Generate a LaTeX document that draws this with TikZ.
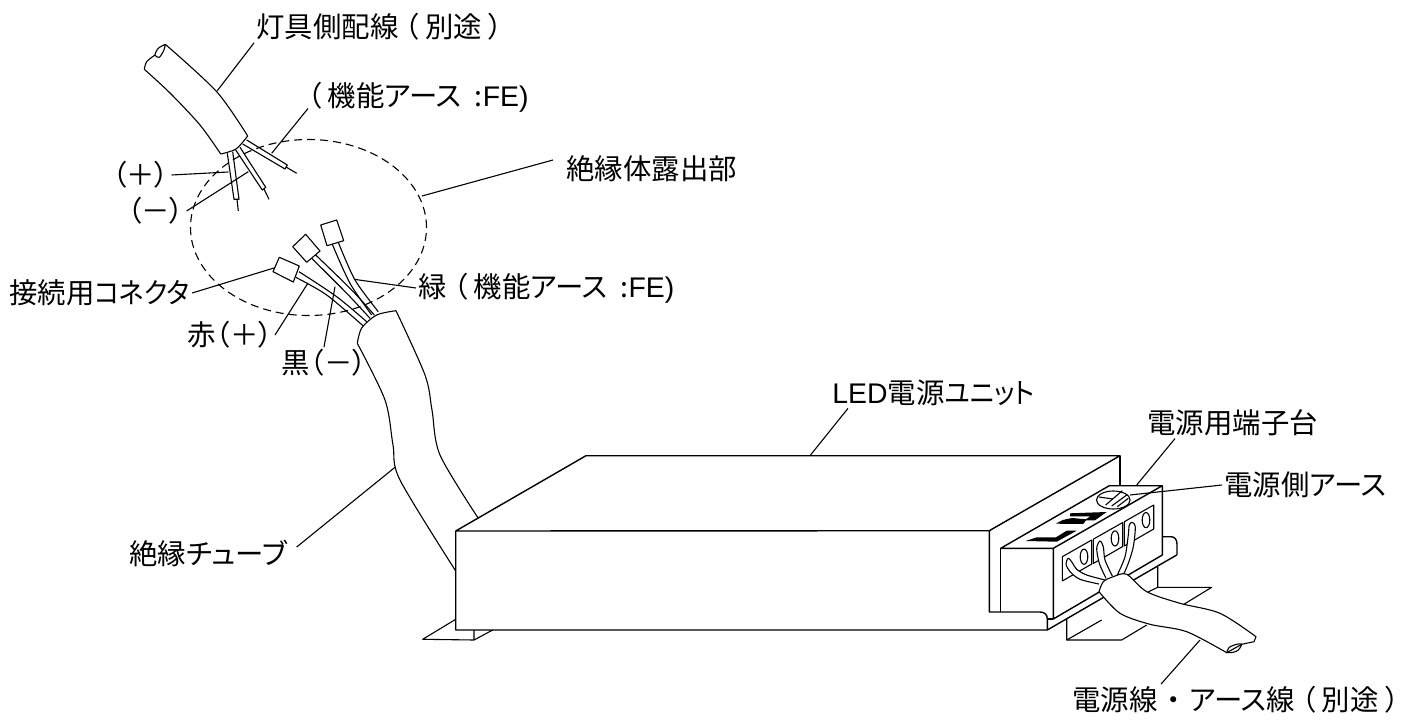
\documentclass[tikz,border=0pt]{standalone}
\usepackage{fontspec}
\setmainfont[RawFeature=+palt]{Noto Sans CJK JP}
\newfontfamily\latinfont{Liberation Sans}
\newcommand{\lat}[1]{{\latinfont #1}}
\newcommand{\tightkana}[1]{\scalebox{.92}[1]{#1}}

\tikzset{
	outline/.style={line width=0.7pt, line join=round},
	thinline/.style={line width=0.55pt, line join=round},
	cover/.style={thinline, fill=white},
	leader/.style={line width=0.55pt},
	label/.style={anchor=west, inner sep=1pt, font=\fontsize{14.2}{15}\selectfont},
}

\begin{document}
\begin{tikzpicture}[x=0.5pt, y=-0.5pt]
	\useasboundingbox (0, 0) rectangle (1409, 722);

	% labels
	\node[label] (lampwire) at (254, 27) {灯具側配線 （ 別途 ）};
	\node[label] (lampfe) at (305, 97) {（ 機能アース\hspace{3.5pt} :\lat{FE)}};
	\node[label] (lampplus) at (110, 175) {（＋）};
	\node[label] (lampminus) at (125, 211) {（－）};
	\node[label] (exposed) at (564, 169) {絶縁体露出部};
	\node[label] (connector) at (7, 293) {接続用\tightkana{コネクタ}};
	\node[label] (green) at (416, 288) {緑 （ 機能アース\hspace{3.5pt} :\lat{FE)}};
	\node[label] (red) at (185, 335) {赤（＋）};
	\node[label] (black) at (279, 363) {黒（－）};
	\node[label] (tube) at (127, 553) {絶縁チューブ};
	\node[label] (unit) at (830, 393) {\lat{LED}電源\tightkana{ユニット}};
	\node[label] (terminal) at (1145, 423) {電源用端子台};
	\node[label] (earth) at (1222, 485) {電源側アース};
	\node[label] (mains) at (1070, 700) {電源線\hspace{4.5pt}・\hspace{4.5pt}アース線 （ 別途 ）};

	% free ends of the leaders
	\coordinate (lampwireEnd) at (217.3, 90.7);
	\coordinate (lampfeEnd) at (271.7, 153.3);
	\coordinate (lampplusEnd) at (228.3, 172);
	\coordinate (lampminusEnd) at (248.3, 171.7);
	\coordinate (exposedEnd) at (422, 196);
	\coordinate (connectorEnd) at (275, 267.7);
	\coordinate (greenEnd) at (354, 279.3);
	\coordinate (redEnd) at (308, 283);
	\coordinate (blackEnd) at (335, 286.7);
	\coordinate (tubeEnd) at (395, 467.3);
	\coordinate (unitEnd) at (810, 455.7);
	\coordinate (terminalEnd) at (1136.7, 485);
	\coordinate (earthEnd) at (1130, 495);
	\coordinate (mainsEnd) at (1200, 640);

	\draw[leader] (lampwire.south west) -- (lampwireEnd);
	\draw[leader] ([xshift=1.5pt, yshift=3pt]lampfe.south west) -- (lampfeEnd);
	\draw[leader] (lampplus.east) -- (lampplusEnd);
	\draw[leader] (lampminus.east) -- (lampminusEnd);
	\draw[leader] ([xshift=-5.5pt, yshift=4.5pt]exposed.west) -- (exposedEnd);
	\draw[leader] (connector.east) -- (connectorEnd);
	\draw[leader] (green.west) -- (greenEnd);
	\draw[leader] (red.east) -- (redEnd);
	\draw[leader] (black.north) -- (blackEnd);
	\draw[leader] ([xshift=3.5pt, yshift=3pt]tube.east) -- (tubeEnd);
	\draw[leader] ([xshift=9pt]unit.south west) -- (unitEnd);
	\draw[leader] ([xshift=15pt]terminal.south west) -- (terminalEnd);
	\draw[leader] (earth.west) -- (earthEnd);
	\draw[leader] ([xshift=45.5pt]mains.north west) -- (mainsEnd);

	\draw[leader, dashed, dash pattern=on 4pt off 2.5pt] (308.5, 227.5) ellipse [x radius=59pt, y radius=44pt];

	% lamp side cable
	\draw[thinline] plot[smooth] coordinates {(165.3, 44.3) (216.7, 91.7) (247.7, 136)};
	\draw[thinline] plot[smooth] coordinates {(144.3, 69.3) (170, 93) (200, 125) (220.7, 154)};
	\draw[thinline] plot[smooth] coordinates {(220.7, 154) (236, 149) (247.7, 136)};
	\draw[thinline] plot[smooth] coordinates {(165.3, 44.3) (158.3, 48.3) (155, 55) (159.3, 57.3) (164, 50) (165.3, 44.3)};
	\draw[thinline] plot[smooth] coordinates {(155, 55) (146.7, 61.7) (144.3, 69.3)};
	\draw[thinline] (227.3, 153.3) -- (234, 199.3) -- (239, 199.3) -- (232.7, 151.7);
	\draw[thinline] (237, 199.3) -- (238.3, 211);
	\draw[thinline] (235.7, 150) -- (262.3, 190) -- (265.7, 187.3) -- (240, 147.3);
	\draw[thinline] (264, 189) -- (269, 199.3);
	\draw[thinline] (242.7, 144) -- (285, 169) -- (287.3, 165) -- (246.7, 140);
	\draw[thinline] (286, 167) -- (296.7, 173.3);

	% connectors with their wires
	\draw[thinline, fill=white] (279.3, 257.3) -- (299.3, 266) -- (293.3, 282) -- (273, 271.7) -- cycle;
	\draw[thinline, fill=white] (305.7, 234.3) -- (320, 251) -- (306.7, 262.3) -- (292.7, 246.7) -- cycle;
	\draw[thinline, fill=white] (320.7, 225) -- (336.7, 220) -- (343.7, 240.7) -- (327, 245.7) -- cycle;
	\draw[thinline] plot[smooth] coordinates {(299, 271.7) (336.7, 296.7) (366.7, 321.7)};
	\draw[thinline] plot[smooth] coordinates {(295.7, 277.3) (326.7, 295) (363.3, 326)};
	\draw[thinline] plot[smooth] coordinates {(315.7, 255) (351.7, 290) (374.3, 315)};
	\draw[thinline] plot[smooth] coordinates {(311.7, 258.3) (346.7, 293.3) (370, 318.3)};
	\draw[thinline] plot[smooth] coordinates {(332.3, 244.3) (350, 283.3) (371.7, 315)};
	\draw[thinline] plot[smooth] coordinates {(338.3, 242.3) (355, 280) (378.3, 311.7)};

	% insulation tube
	\draw[thinline] plot[smooth] coordinates {(396, 310.7) (425, 375) (432, 410) (440, 455) (478.3, 518.3)};
	\draw[thinline] plot[smooth] coordinates {(357.3, 343.3) (385, 400) (393, 445) (400, 480) (455.7, 571)};
	\draw[cover] plot[smooth] coordinates {(357.3, 343.3) (361.7, 328) (376.7, 315) (396, 310.7)};

	% flanges
	\draw[thinline] (455.7, 619.3) -- (422.7, 639.3) -- (474, 640) -- (474, 630);
	\draw[thinline] (474, 640) -- (492.7, 630);
	\draw[thinline] (1157.7, 566.7) -- (1157.7, 587.3) -- (1211.7, 587.3) -- (1182.7, 605);
	\draw[thinline] (1157.7, 587.3) -- (1148, 592);
	\draw[thinline] (1066.7, 619) -- (1066.7, 640) -- (1121.7, 640) -- (1146.7, 625);
	\draw[thinline] (1066.7, 640) -- (1101.7, 620);

	% unit body
	\draw[outline] (455.7, 531) -- (586, 455.7) -- (1120, 455.7) -- (989.3, 530.7) -- (455.7, 531) -- (455.7, 630) -- (1047.3, 630);
	\draw[outline] (1120, 455.7) -- (1120, 485.7);
	\draw[outline] (989.3, 530.7) -- (989.3, 612) -- (1040, 612) .. controls (1045, 612) and (1047.3, 615) .. (1047.3, 619) -- (1047.3, 630) -- (1176.7, 555);
	\draw[outline] (1162.3, 536.7) -- (1171, 536.7) .. controls (1175, 536.7) and (1177, 540) .. (1177, 544) -- (1177, 555);

	% terminal block
	\draw[outline] (1000.7, 548.3) -- (1109.3, 485.7) -- (1162.3, 485.7) -- (1053.3, 548.3) -- cycle;
	\draw[outline] (1000.7, 548.3) -- (1000.7, 612);
	\draw[outline] (1053.3, 548.3) -- (1053.3, 619) -- (1162.3, 555) -- (1162.3, 485.7);
	\draw[outline] (1047.3, 619) -- (1053.3, 619);
	\foreach \k in {0, 1, 2} {
		\draw[thinline] ({1062.3 + 31 * \k}, {556.7 - 17.5 * \k}) -- ++(29.4, -16.7) -- ++(0, 24) -- ++(-29.4, 17) -- cycle;
		\draw[thinline] ({1084 + 31 * \k}, {556.7 - 18.3 * \k}) ellipse [x radius=1.9pt, y radius=3.8pt];
	}

	% markings and screw
	\fill (1025.7, 541) -- (1056.7, 541.7) -- (1076.7, 530.7) -- (1066.7, 530.7) -- (1056, 537.3) -- (1036.7, 537.3) -- cycle;
	\fill (1070, 513.3) -- (1106.7, 512) -- (1095, 520.3) -- (1084.3, 520.3) -- (1090.3, 516.3) -- (1070, 516.3) -- cycle;
	\fill (1055.7, 523.7) -- (1062.7, 520) -- (1072, 518) -- (1086.7, 519.3) -- (1083.3, 524) -- cycle;
	\draw[thinline] (1113.3, 500) ellipse [x radius=8.4pt, y radius=4.5pt];
	\draw[thinline] (1099, 497) -- (1113, 499);
	\draw[thinline] (1105.7, 505) -- (1122.3, 490.7);
	\draw[thinline] (1111.7, 506) -- (1126.7, 495);
	\draw[thinline] (1117.3, 506.7) -- (1128.3, 498.3);

	% wires to the terminals
	\draw[cover] plot[smooth] coordinates {(1099, 584) (1080, 579.3) (1070, 571.7) (1066, 564) (1068.3, 558.3) (1072.3, 562.7) (1076.7, 569.3) (1086.7, 575) (1105, 580)};
	\draw[cover] plot[smooth] coordinates {(1106, 578.3) (1099.3, 563.3) (1096.7, 548.3) (1100, 541) (1103.3, 546.7) (1105, 560) (1112.3, 576)};
	\draw[cover] plot[smooth] coordinates {(1117.3, 575) (1125, 556.7) (1128.3, 535) (1129.3, 525) (1132.3, 522.3) (1135.3, 527.3) (1133.3, 546.7) (1128.3, 563.3) (1123.3, 575)};

	% mains cable
	\draw[cover] plot[smooth] coordinates {(1099, 591.7) (1103.3, 581.7) (1113.3, 576.7) (1126.7, 574.3) (1146.7, 591.7) (1180, 603.3) (1220, 613.3) (1256, 636.7)}
		-- (1254, 641.7) -- (1241.7, 644.3) -- (1226.7, 652.7) -- plot[smooth] coordinates {(1226.7, 652.7) (1186.7, 631.7) (1150, 624.3) (1120, 613.3) (1099, 591.7)};
	\draw[thinline] plot[smooth] coordinates {(1226.7, 652.7) (1229.3, 647.3) (1236.7, 644.3) (1241.7, 644.3) (1238.3, 650) (1233.3, 652.3) (1226.7, 652.7)};
\end{tikzpicture}
\end{document}
